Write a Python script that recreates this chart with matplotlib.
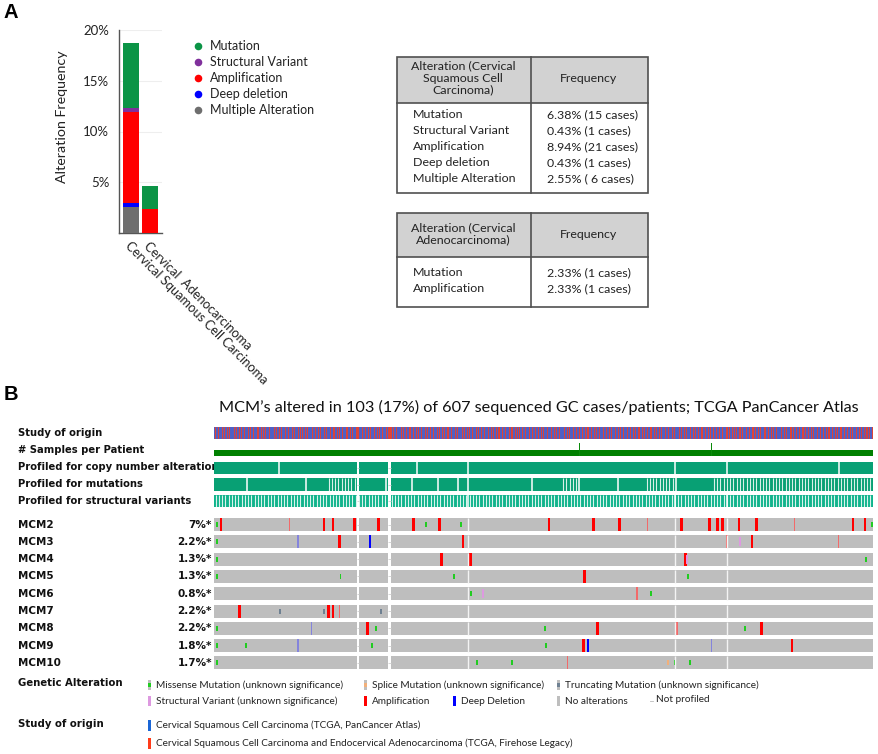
import numpy as np
import matplotlib.pyplot as plt
from itertools import groupby
from matplotlib.patches import Rectangle
from matplotlib.transforms import Bbox, TransformedBbox

## Panel A data ##
cancer_types = ['Cervical Squamous Cell Carcinoma', 'Cervical  Adenocarcinoma']
multiple_alt = [2.55, 0.0]
deep_deletion = [0.43, 0.0]
amplification = [8.94, 2.33]
structural_var = [0.43, 0.0]
mutation = [6.38, 2.33]
freq_ticks = [5, 10, 15, 20]

table1_rows = ['Mutation', 'Structural Variant', 'Amplification', 'Deep deletion', 'Multiple Alteration']
table1_freq = ['6.38% (15 cases)', '0.43% (1 cases)', '8.94% (21 cases)', '0.43% (1 cases)', '2.55% ( 6 cases)']
table2_rows = ['Mutation', 'Amplification']
table2_freq = ['2.33% (1 cases)', '2.33% (1 cases)']

## Panel B data ##
n_cases = 607
genes = ['MCM2', 'MCM3', 'MCM4', 'MCM5', 'MCM6', 'MCM7', 'MCM8', 'MCM9', 'MCM10']
gene_pct = ['7%*', '2.2%*', '1.3%*', '1.3%*', '0.8%*', '2.2%*', '2.2%*', '1.8%*', '1.7%*']

# study of origin per case, B = PanCancer Atlas, R = Firehose Legacy
study_origin = ''.join([
    'BRBBRBBRBR', 'BBRBRBBBRB', 'RBBRBRBBRB', 'BRBRBBRBBB', 'RBBRBRBRBB',
    'BRBBBRBRBB', 'RBRBBRBBRB', 'BBRBRBBRBR', 'BRBBRBRBBB', 'RBBRBBRBRB',
    'BRBRBBBRBB', 'RBBRBRBBRB', 'BBRBBRBRBB', 'BRRRBBRBBR', 'BBRBRBBRBB',
    'RBRBBRBBRB', 'RRRRBRBBRB', 'BBRBRBBRBB', 'RBBRBBRBRB', 'BRBBRBRBBR',
    'BBRBBRBRBB', 'RBRBBRBBRB', 'BBRBRBBBRB', 'RBBRBRBBRB', 'BRBRBBRBBR',
    'BBRBBRBRBB', 'RBRBBRBBRB', 'BBRBRBBRBR', 'BRBBRBRBBB', 'RBBRBBRBRB',
    'BRBRBBBRBB', 'RBBRBRBBRB', 'BBRBBRBRBB', 'BRBRBBRBBR', 'BBRBRBBRBB',
    'RBRBBRBBRB', 'BRBBRBRBBR', 'BBRBRBBRBB', 'RBBRBBRBRB', 'BRBBRBRBBR',
    'BBRBBRBRBB', 'RBRBBRBBRB', 'BBRBRBBBRB', 'RBBRBRBBRB', 'BRBRBBRBBR',
    'BBRBBRBRBB', 'RBRBBRBBRB', 'BBRBRBBRBR', 'BRBBRBRBBB', 'RBBRBBRBRB',
    'BRBRBBBRBB', 'RBBRBRBBRB', 'BBRBBRBRBB', 'BRBRBBRBBR', 'BBRBRBBRBB',
    'RBRBBRBBRB', 'BRBBRBRBBR', 'BBRBRBBRBB', 'RBBRBBRBRB', 'BRBBRBRBBR',
    'BRBRBBR'])
two_sample_patients = [336, 458]
not_profiled = [132, 133, 160, 161, 162]
gene_breaks = [233.5, 424.5, 472.5]
cna_breaks = [60, 187, 233.5, 424.5, 472.5, 576]
mut_breaks = [30, 85, 158, 182, 206, 225, 234, 293, 336, 372, 426]
mut_striped = [(104, 132), (320, 334), (397, 425), (459, 607)]

missense = {'MCM2': [2, 195, 227, 606], 'MCM3': [2], 'MCM4': [2, 600],
            'MCM5': [2, 116, 221, 436], 'MCM6': [236, 402],
            'MCM8': [2, 149, 304, 489], 'MCM9': [2, 29, 145, 305],
            'MCM10': [2, 242, 274, 424, 438]}
amp = {'MCM2': [6, 101, 109, 129, 151, 183, 207, 308, 349, 373, 430, 456, 463, 468, 483, 499, 588, 599],
       'MCM3': [115, 229, 495], 'MCM4': [209, 236, 434], 'MCM5': [341],
       'MCM7': [23, 105, 109], 'MCM8': [141, 353, 504], 'MCM9': [340, 532]}
amp_light = {'MCM2': [69, 399, 534], 'MCM3': [472, 575], 'MCM6': [389],
             'MCM7': [115], 'MCM8': [426], 'MCM10': [325]}
deep_del = {'MCM3': [143], 'MCM9': [344]}
deep_del_light = {'MCM3': [77], 'MCM8': [89], 'MCM9': [77, 458]}
truncating = {'MCM7': [60, 101, 153]}
struct_sv = {'MCM3': [484], 'MCM4': [435], 'MCM6': [247]}
splice = {'MCM10': [418]}

W, H = 879, 754
fig = plt.figure(figsize=(W / 100, H / 100), dpi=100)
FONT = 'Lato'
BOLD = 'DejaVu Sans'
TXT = '#222222'


def fbox(x0, y0, x1, y1):
    return [x0 / W, 1 - y1 / H, (x1 - x0) / W, (y1 - y0) / H]


bg = fig.add_axes([0, 0, 1, 1])
bg.set_xlim(0, W)
bg.set_ylim(H, 0)
bg.axis('off')

bg.text(4, 13, 'A', fontsize=14.5, fontweight='bold', family='Liberation Sans', va='center')
bg.text(4, 394, 'B', fontsize=14.5, fontweight='bold', family='Liberation Sans', va='center')

## bar chart ##
ax = fig.add_axes(fbox(119, 30, 162, 233))
x = np.arange(len(cancer_types))
bottom = np.zeros(len(cancer_types))
for vals, col in [(multiple_alt, '#6e6e6e'), (deep_deletion, '#0000ff'), (amplification, '#ff0000'),
                  (structural_var, '#80309c'), (mutation, '#0b9446')]:
    ax.bar(x, vals, 0.82, bottom=bottom, color=col, linewidth=0, zorder=3)
    bottom += np.array(vals)
ax.set_xlim(-0.615, 1.59)
ax.set_ylim(0, 20)
ax.set_yticks(freq_ticks)
ax.set_yticklabels(['%d%%' % t for t in freq_ticks], fontsize=9.5, family=FONT, color=TXT)
ax.set_xticks(x)
ax.set_xticklabels(cancer_types, rotation=-45, ha='left', va='top', rotation_mode='anchor',
                   fontsize=9.3, family=FONT, color=TXT)
ax.tick_params(length=0, pad=5)
ax.tick_params(axis='y', pad=7)
ax.grid(axis='y', color='#eeeeee', lw=0.8, zorder=0)
for s in ['top', 'right']:
    ax.spines[s].set_visible(False)
for s in ['left', 'bottom']:
    ax.spines[s].set_color('#555555')
    ax.spines[s].set_linewidth(1)
bg.text(62, 117, 'Alteration Frequency', rotation=90, ha='center', va='center',
        fontsize=10.3, family=FONT, color=TXT)

legend_items = [('Mutation', '#0b9446'), ('Structural Variant', '#80309c'), ('Amplification', '#ff0000'),
                ('Deep deletion', '#0000ff'), ('Multiple Alteration', '#6e6e6e')]
for i, (lab, col) in enumerate(legend_items):
    yy = 46 + i * 16
    bg.scatter([198], [yy], s=30, color=col, linewidths=0)
    bg.text(210, yy, lab, fontsize=9, family=FONT, va='center', color=TXT)

## tables ##
def draw_table(top, hb, bot, head_lines, head_y, rows, freqs, row_y):
    x0, xd, x1 = 397, 531, 648
    bg.add_patch(Rectangle((x0, top), x1 - x0, hb - top, facecolor='#d2d2d2', edgecolor='none'))
    bg.add_patch(Rectangle((x0, top), x1 - x0, bot - top, facecolor='none', edgecolor='#505050', lw=1.2))
    bg.plot([x0, x1], [hb, hb], color='#505050', lw=1.2)
    bg.plot([xd, xd], [top, bot], color='#505050', lw=1.2)
    bg.text(463, head_y, head_lines, ha='center', va='center', fontsize=8.9, family=FONT,
            linespacing=1.12, color=TXT)
    bg.text(589, (top + hb) / 2 - 1, 'Frequency', ha='center', va='center', fontsize=8.9, family=FONT,
            color=TXT)
    for i, (r, f) in enumerate(zip(rows, freqs)):
        bg.text(413, row_y + i * 16.1, r, va='center', fontsize=8.9, family=FONT, color=TXT)
        bg.text(547, row_y + i * 16.1, f, va='center', fontsize=8.9, family=FONT, color=TXT)


draw_table(57, 103, 193, 'Alteration (Cervical\nSquamous Cell\nCarcinoma)', 78,
           table1_rows, table1_freq, 114.3)
draw_table(213, 257, 307, 'Alteration (Cervical\nAdenocarcinoma)', 234,
           table2_rows, table2_freq, 272.5)

## oncoprint ##
bg.text(539, 407, 'MCM\u2019s altered in 103 (17%) of 607 sequenced GC cases/patients; TCGA PanCancer Atlas',
        ha='center', va='center', fontsize=11.7, family=FONT, color='#111111')

onc = fig.add_axes(fbox(214, 420, 873, 680))
onc.set_xlim(0, n_cases)
onc.set_ylim(680, 420)
onc.axis('off')

TEAL = '#08a074'
GREY = '#bebebe'

# study of origin
study_colors = {'B': '#5060c4', 'R': '#dc4438'}
pos = 0
for letter, grp in groupby(study_origin):
    n = len(list(grp))
    onc.broken_barh([(pos, n)], (427, 12), color=study_colors[letter], lw=0)
    pos += n

# samples per patient
samples = np.ones(n_cases)
samples[two_sample_patients] = 2
onc.broken_barh([(0, n_cases)], (456 - 6.5, 6.5), color='#008000', lw=0)
for c in np.where(samples > 1)[0]:
    onc.broken_barh([(c, 1.1)], (456 - 6.5 * samples[c], 6.5 * samples[c]), color='#0a8a0a', lw=0)

profiled = np.ones(n_cases, bool)
profiled[not_profiled] = False


def mask_runs(mask, want=True):
    out, p = [], 0
    for v, grp in groupby(mask):
        n = len(list(grp))
        if v == want:
            out.append((p, n))
        p += n
    return out


prof_runs = mask_runs(profiled, True)
np_runs = mask_runs(profiled, False)


def profile_track(top, h, color, breaks, striped):
    onc.broken_barh(prof_runs, (top, h), color=color, lw=0)
    onc.vlines(breaks, top, top + h, color='white', lw=1.1)
    for a, b in striped:
        onc.vlines(np.arange(a + 1.5, b, 3), top, top + h, color='white', lw=0.8, alpha=0.85)
    for a, n in np_runs:
        onc.hlines(top + h / 2, a, a + n, color='#cfcfcf', lw=0.6)


profile_track(462, 11.5, TEAL, cna_breaks, [])
profile_track(478, 13, TEAL, mut_breaks, mut_striped)
profile_track(495, 12, '#10b48c', gene_breaks, [(0, n_cases)])

track_labels = ['Study of origin', '# Samples per Patient', 'Profiled for copy number alterations',
                'Profiled for mutations', 'Profiled for structural variants']
clip = TransformedBbox(Bbox([[0, 0], [214, H]]), bg.transData)
for i, lab in enumerate(track_labels):
    t = bg.text(18, 433 + i * 17, lab, fontsize=7.2, fontweight='bold', family=BOLD, va='center',
                color='#111111')
    t.set_clip_box(clip)
    t.set_clip_on(True)


def marks(d, gene, top, h, w, color, off=0.0):
    cols = d.get(gene, [])
    if cols:
        onc.broken_barh([(c + 0.5 - w / 2, w) for c in cols], (top + off, h), color=color, lw=0)


for i, g in enumerate(genes):
    top = 518 + i * 17.3
    onc.broken_barh(prof_runs, (top, 13), color=GREY, lw=0)
    onc.vlines(gene_breaks, top, top + 13, color='#f4f4f4', lw=1.0)
    for a, n in np_runs:
        onc.hlines(top + 6.5, a, a + n, color='#d0d0d0', lw=0.6)
    marks(amp, g, top, 13, 2.4, '#ff0000')
    marks(amp_light, g, top, 13, 1.2, '#f26a6a')
    marks(deep_del, g, top, 13, 2.2, '#0000ff')
    marks(deep_del_light, g, top, 13, 1.2, '#8484dc')
    marks(struct_sv, g, top, 9, 1.8, '#dd99e0', 2)
    marks(missense, g, top, 5, 1.8, '#22cc22', 4)
    marks(truncating, g, top, 5, 1.8, '#6f8192', 4)
    marks(splice, g, top, 5, 1.8, '#f2b07a', 4)
    bg.text(18, top + 6.5, g, fontsize=7.5, fontweight='bold', family=BOLD, va='center', color='#111111')
    bg.text(212, top + 6.5, gene_pct[i], fontsize=7.5, fontweight='bold', family=BOLD, va='center',
            ha='right', color='#111111')

## bottom legend ##
bg.text(18, 683, 'Genetic Alteration', fontsize=7.3, fontweight='bold', family=BOLD, va='center',
        color='#111111')
bg.text(18, 724, 'Study of origin', fontsize=7.3, fontweight='bold', family=BOLD, va='center',
        color='#111111')

leg_items = [
    (150, 685, 'Missense Mutation (unknown significance)', GREY, '#22cc22'),
    (366, 685, 'Splice Mutation (unknown significance)', GREY, '#f2b07a'),
    (559, 685, 'Truncating Mutation (unknown significance)', GREY, '#6f8192'),
    (150, 701, 'Structural Variant (unknown significance)', '#dd99e0', None),
    (366, 701, 'Amplification', '#ff0000', None),
    (455, 701, 'Deep Deletion', '#0000ff', None),
    (559, 701, 'No alterations', GREY, None),
]
for lx, ly, lab, c1, c2 in leg_items:
    bg.add_patch(Rectangle((lx - 1.5, ly - 5), 3, 10, facecolor=c1, lw=0))
    if c2:
        bg.add_patch(Rectangle((lx - 1.5, ly - 2), 3, 4, facecolor=c2, lw=0))
    bg.text(lx + 6, ly, lab, fontsize=7.2, family=FONT, va='center', color=TXT)
bg.plot([650, 653], [701, 701], color='#bbbbbb', lw=0.6)
bg.text(656, 700, 'Not profiled', fontsize=7.2, family=FONT, va='center', color=TXT)

study_leg = [('Cervical Squamous Cell Carcinoma (TCGA, PanCancer Atlas)', '#1a66d6'),
             ('Cervical Squamous Cell Carcinoma and Endocervical Adenocarcinoma (TCGA, Firehose Legacy)', '#ff3c1a')]
for i, (lab, col) in enumerate(study_leg):
    ly = 725 + i * 18
    bg.add_patch(Rectangle((148.5, ly - 5.5), 3, 11, facecolor=col, lw=0))
    bg.text(156, ly, lab, fontsize=7.2, family=FONT, va='center', color=TXT)

fig.savefig('out.png', dpi=100)
